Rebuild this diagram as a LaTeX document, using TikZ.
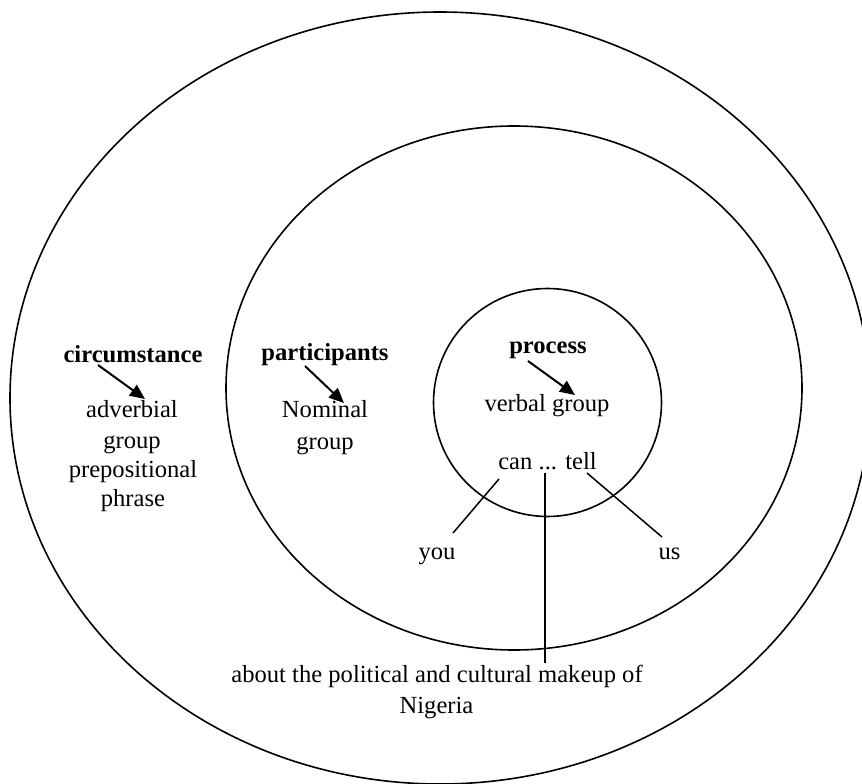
\documentclass[tikz,border=0pt]{standalone}
\usepackage{fontspec}
\setmainfont{Liberation Serif}
\usetikzlibrary{arrows.meta}
\begin{document}
\begin{tikzpicture}[x=1pt,y=-1pt,
  txt/.style={inner sep=0pt, anchor=base, font=\fontsize{24.6}{30}\selectfont},
  bold/.style={inner sep=0pt, anchor=base, font=\fontsize{24.6}{30}\selectfont\bfseries},
  ring/.style={draw, line width=1.6pt},
  pointer/.style={line width=2pt, -{Triangle[length=15pt,width=13pt]}},
  link/.style={line width=1.5pt}]
\useasboundingbox (0,0) rectangle (862,784);
% rings
\draw[ring] (440,398) ellipse [x radius=430, y radius=386];
\draw[ring] (514,388) ellipse [x radius=288, y radius=262];
\draw[ring] (547.5,402.5) circle [radius=114];
% labels
\node[bold] (circ) at (133,362) {circumstance};
\node[txt] (adv1) at (132,417) {adverbial};
\node[txt] (adv2) at (132,448) {group};
\node[txt] (adv3) at (133,477) {prepositional};
\node[txt] (adv4) at (133,506) {phrase};
\node[bold] (part) at (325,360) {participants};
\node[txt] (nom1) at (325,417) {Nominal};
\node[txt] (nom2) at (325,449) {group};
\node[bold] (proc) at (548,353) {process};
\node[txt] (verb) at (547,411) {verbal group};
\node[txt] (cantell) at (547.5,469) {can ... tell};
\node[txt] (you) at (437,559) {you};
\node[txt] (us) at (669.5,559) {us};
\node[txt] (about) at (437,682) {about the political and cultural makeup of};
\node[txt] (nig) at (436.5,713) {Nigeria};
% connector ends
\coordinate (a1s) at (98,365);  \coordinate (a1e) at (145,399);
\coordinate (a2s) at (305,366); \coordinate (a2e) at (344,403);
\coordinate (a3s) at (528,361); \coordinate (a3e) at (575,395);
\coordinate (l1s) at (499,479); \coordinate (l1e) at (453,533);
\coordinate (l2s) at (545,473); \coordinate (l2e) at (545,663);
\coordinate (l3s) at (587,473); \coordinate (l3e) at (662,537);
% arrows
\draw[pointer] (a1s) -- (a1e);
\draw[pointer] (a2s) -- (a2e);
\draw[pointer] (a3s) -- (a3e);
% lines
\draw[link] (l1s) -- (l1e);
\draw[link] (l2s) -- (l2e);
\draw[link] (l3s) -- (l3e);
\end{tikzpicture}
\end{document}
